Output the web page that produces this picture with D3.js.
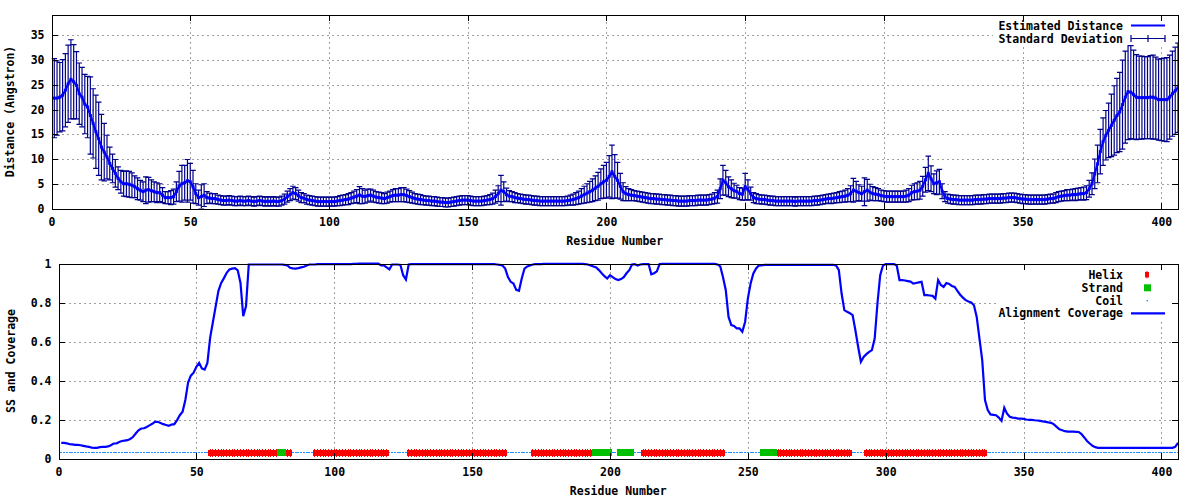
<!DOCTYPE html>
<html><head><meta charset="utf-8">
<script src="https://cdn.jsdelivr.net/npm/d3@7"></script>
<style>
html,body{margin:0;padding:0;background:#fff;}
text{font-family:"DejaVu Sans Mono",monospace;font-weight:bold;font-size:11.5px;fill:#000;}
</style></head><body>
<svg id="c" width="1200" height="500"></svg>
<script>
// ---------------- DATA ----------------
const residues = d3.range(1, 407);
const xTicks = [0, 50, 100, 150, 200, 250, 300, 350, 400];
const distYTicks = [0, 5, 10, 15, 20, 25, 30, 35];
const covYTicks = [0, 0.2, 0.4, 0.6, 0.8, 1];
const covYTickLabels = ["0", "0.2", "0.4", "0.6", "0.8", "1"];

const distance = [
22.3,22.3,22.5,22.9,23.9,25.2,26.1,25.6,24.9,23.2,
22.5,21.1,20.5,18.8,17.2,15.5,14.1,12.4,11.4,10.4,
9.1,8.1,7.1,6.1,5.4,5.0,5.0,4.9,4.7,4.4,
4.0,3.7,3.4,3.7,3.8,3.6,3.4,3.2,3.2,2.7,
2.2,2.2,2.2,2.4,3.4,4.5,5.0,5.2,5.6,5.4,
4.4,3.0,2.2,2.4,2.7,2.2,2.1,2.0,2.0,1.8,
1.7,1.6,1.6,1.7,1.6,1.5,1.5,1.6,1.5,1.5,
1.6,1.5,1.4,1.5,1.6,1.5,1.4,1.5,1.4,1.5,
1.4,1.4,1.6,1.9,2.4,2.8,3.2,3.0,2.6,2.2,
2.1,1.8,1.7,1.6,1.5,1.4,1.4,1.4,1.4,1.4,
1.4,1.4,1.5,1.6,1.7,1.8,1.9,2.1,2.3,2.5,
2.7,2.5,2.4,2.6,2.7,2.5,2.3,2.2,2.1,2.0,
2.2,2.4,2.6,2.7,2.7,2.8,2.8,2.6,2.4,2.2,
2.0,1.9,1.8,1.7,1.6,1.6,1.5,1.5,1.4,1.3,
1.3,1.2,1.2,1.3,1.4,1.5,1.6,1.7,1.7,1.7,
1.6,1.5,1.5,1.5,1.5,1.6,1.7,1.8,2.0,2.4,
3.0,3.7,3.4,2.8,2.5,2.4,2.2,2.1,2.0,1.9,
1.8,1.8,1.7,1.6,1.6,1.5,1.5,1.5,1.5,1.5,
1.5,1.5,1.5,1.5,1.5,1.6,1.7,1.8,2.0,2.2,
2.5,2.8,3.1,3.4,3.7,4.1,4.5,5.0,5.4,5.7,
6.5,7.4,6.5,5.7,4.5,3.4,3.0,2.8,2.7,2.6,
2.5,2.4,2.3,2.2,2.1,2.0,2.0,1.9,1.9,1.8,
1.8,1.7,1.7,1.6,1.6,1.5,1.5,1.5,1.5,1.6,
1.6,1.6,1.7,1.7,1.7,1.7,1.8,1.9,2.1,2.4,
4.0,5.7,5.2,4.4,4.0,3.6,3.4,3.0,2.9,4.4,
3.8,3.0,2.2,2.0,1.9,1.8,1.8,1.7,1.6,1.6,
1.5,1.5,1.5,1.5,1.5,1.5,1.5,1.4,1.5,1.5,
1.5,1.5,1.5,1.5,1.6,1.6,1.7,1.8,1.9,2.0,
2.0,2.1,2.2,2.3,2.4,2.5,2.7,3.0,3.7,3.5,
3.2,3.0,3.4,3.7,3.3,3.0,2.9,2.8,2.6,2.5,
2.4,2.4,2.4,2.4,2.4,2.4,2.4,2.5,2.7,3.2,
3.4,3.5,3.7,4.5,5.8,7.1,6.0,5.0,5.2,5.4,
3.5,2.4,2.0,1.9,1.8,1.8,1.7,1.7,1.7,1.7,
1.7,1.7,1.8,1.8,1.8,1.9,1.9,2.0,2.0,2.0,
2.0,2.0,2.1,2.1,2.2,2.2,2.2,2.1,2.0,1.9,
1.9,1.8,1.8,1.8,1.8,1.8,1.8,1.8,1.9,2.0,
2.0,2.2,2.4,2.5,2.6,2.7,2.7,2.8,2.8,2.9,
3.0,3.0,3.2,4.0,5.0,7.0,9.0,11.5,13.5,14.8,
15.8,16.8,17.8,18.8,19.5,21.0,22.5,23.6,23.5,23.0,
22.5,22.4,22.4,22.4,22.4,22.5,22.5,22.3,22.0,22.0,
22.0,22.0,22.5,23.2,23.8,24.4];

const stdDev = [
8.0,7.5,7.0,7.2,7.4,7.8,8.0,7.5,6.8,6.2,
6.0,6.0,6.2,7.8,7.0,7.4,7.4,6.6,5.8,4.4,
3.3,2.9,2.8,2.3,2.3,2.5,2.6,2.6,2.5,2.2,
2.2,2.0,2.0,2.7,2.5,2.2,2.0,2.0,1.8,1.5,
1.2,1.2,1.4,1.5,2.0,3.0,3.7,3.5,4.3,3.7,
3.3,2.0,1.5,2.4,2.3,1.2,1.0,1.0,1.0,0.9,
0.9,0.9,0.9,0.9,0.9,0.9,0.9,0.9,0.9,0.9,
0.9,0.9,0.9,0.9,0.9,0.9,0.9,0.9,0.9,0.9,
0.9,0.9,0.9,1.0,1.1,1.2,1.3,1.2,1.1,1.0,
0.9,0.9,0.9,0.9,0.9,0.9,0.9,0.9,0.9,0.9,
0.9,0.9,0.9,1.0,1.0,1.0,1.1,1.1,1.2,1.3,
1.7,1.5,1.3,1.3,1.2,1.2,1.1,1.1,1.1,1.0,
1.1,1.1,1.2,1.3,1.3,1.4,1.4,1.3,1.2,1.1,
1.0,1.0,1.0,0.9,0.9,0.9,0.9,0.9,0.9,0.9,
0.9,0.9,0.9,0.9,0.9,0.9,0.9,0.9,0.9,0.9,
0.9,0.9,0.9,0.9,0.9,0.9,0.9,1.0,1.1,1.3,
1.6,3.0,2.0,1.3,1.1,1.0,1.0,0.9,0.9,0.9,
0.9,0.9,0.9,0.9,0.9,0.9,0.9,0.9,0.9,0.9,
0.9,0.9,0.9,0.9,0.9,0.9,1.0,1.1,1.2,1.3,
1.5,1.7,1.9,2.1,2.3,2.5,2.8,3.0,3.3,3.6,
4.2,5.4,4.4,3.6,2.6,1.8,1.4,1.2,1.1,1.0,
1.0,1.0,1.0,1.0,1.0,1.0,1.0,1.0,1.0,1.0,
1.0,1.0,1.0,1.0,1.0,1.0,1.0,1.0,1.0,1.0,
1.0,1.0,1.0,1.0,1.0,1.0,1.0,1.0,1.1,1.3,
2.0,3.0,2.5,2.0,1.8,1.5,1.3,1.2,1.2,2.7,
2.0,1.3,1.0,1.0,0.9,0.9,0.9,0.9,0.9,0.9,
0.9,0.9,0.9,0.9,0.9,0.9,0.9,0.9,0.9,0.9,
0.9,0.9,0.9,0.9,0.9,0.9,0.9,0.9,0.9,0.9,
1.0,1.0,1.0,1.1,1.1,1.2,1.3,1.6,2.4,2.0,
1.6,1.5,2.8,2.2,1.6,1.4,1.3,1.2,1.1,1.1,
1.1,1.1,1.1,1.1,1.1,1.1,1.1,1.2,1.3,1.5,
1.6,1.7,1.8,2.0,2.5,3.5,2.6,2.0,2.4,2.5,
1.5,1.0,0.9,0.9,0.9,0.9,0.9,0.9,0.9,0.9,
0.9,0.9,0.9,0.9,0.9,0.9,0.9,0.9,0.9,0.9,
0.9,0.9,0.9,0.9,0.9,0.9,0.9,0.9,0.9,0.9,
0.9,0.9,0.9,0.9,0.9,0.9,0.9,0.9,0.9,0.9,
0.9,1.0,1.0,1.0,1.0,1.1,1.1,1.1,1.2,1.2,
1.2,1.3,1.4,1.7,2.2,3.0,3.8,4.5,4.8,5.0,
5.5,6.3,7.0,7.5,8.0,9.0,9.3,9.7,9.4,9.0,
8.6,8.4,8.4,8.3,8.3,8.4,8.5,8.3,8.2,8.3,
8.4,8.5,8.5,8.6,8.8,9.0];

const coverage = [
.080,.080,.078,.074,.072,.070,.070,.068,.065,.062,
.060,.056,.055,.055,.058,.060,.060,.062,.068,.077,
.077,.085,.090,.092,.094,.100,.110,.128,.145,.154,
.155,.162,.170,.178,.188,.188,.182,.176,.172,.168,
.174,.176,.197,.222,.240,.300,.390,.425,.440,.470,
.490,.462,.456,.490,.620,.700,.780,.860,.900,.925,
.952,.970,.974,.976,.965,.900,.730,.780,.995,.995,
.995,.995,.995,.995,.995,.995,.995,.995,.995,.995,
.995,.993,.990,.978,.975,.974,.976,.980,.983,.990,
.995,.995,.995,.997,.997,.997,.997,.997,.997,.997,
.997,.997,.997,.997,.997,.997,.998,.998,1,1,
1,1,1,1,1,1,.990,.990,.980,.970,
.995,.995,.995,.993,.940,.918,.995,.997,.997,.997,
.997,.997,.997,.997,.997,.997,.997,.997,.997,.997,
.997,.997,.997,.997,.997,.997,.997,.997,.997,.997,
.997,.997,.997,.997,.997,.997,.997,.997,.995,.993,
.990,.974,.930,.906,.897,.865,.860,.923,.974,.985,
.990,.995,.997,.997,.997,.998,.998,.998,.998,.998,
.998,.998,.998,.998,.998,.998,.998,.998,.998,.998,
.997,.995,.990,.985,.980,.966,.950,.935,.923,.940,
.930,.920,.915,.920,.930,.950,.966,.995,.997,.990,
.995,.997,.997,.997,.945,.950,.960,.997,.998,.998,
.998,.998,.998,.998,.998,.998,.998,.998,.998,.998,
.998,.998,.998,.998,.998,.998,.998,.998,.995,.985,
.930,.863,.726,.684,.680,.667,.667,.650,.700,.820,
.897,.949,.975,.990,.990,.993,.993,.993,.993,.993,
.993,.993,.993,.993,.993,.993,.993,.993,.993,.993,
.993,.993,.993,.993,.993,.993,.993,.993,.993,.993,
.993,.990,.966,.846,.761,.752,.745,.735,.658,.573,
.496,.521,.535,.547,.556,.615,.795,.940,.990,.997,
.997,.997,.997,.990,.915,.915,.913,.910,.907,.897,
.900,.903,.906,.838,.838,.836,.834,.820,.915,.890,
.880,.900,.895,.885,.880,.860,.840,.825,.812,.805,
.800,.786,.726,.615,.504,.300,.248,.226,.224,.222,
.210,.193,.260,.230,.214,.210,.208,.205,.205,.203,
.200,.198,.198,.196,.195,.193,.190,.188,.185,.183,
.175,.162,.150,.145,.140,.138,.138,.138,.137,.136,
.125,.108,.090,.077,.065,.058,.055,.055,.055,.055,
.055,.055,.055,.055,.055,.055,.055,.055,.055,.055,
.055,.055,.055,.055,.055,.055,.055,.055,.055,.055,
.055,.055,.055,.055,.060,.080];

// secondary structure segments [first residue, last residue]
const helixSegments = [[55,79],[83,84],[93,119],[127,162],[172,193],[212,241],[261,287],[293,336]];
const strandSegments = [[80,82],[194,200],[203,208],[255,260]];
const ssLevel = 0.03;

// ---------------- DRAWING ----------------
const svg = d3.select("#c");
svg.append("rect").attr("width",1200).attr("height",500).attr("fill","#fff");

const GRID = "#a0a0a0";
function panel(x, y, ticksY, tickLabY, xlabel, ylabel, ylabCx) {
  const g = svg.append("g");
  const [x0, x1] = x.range(), [y0, y1] = y.range();
  const grid = g.append("g");
  xTicks.forEach(t => grid.append("line").attr("x1",Math.round(x(t))+0.5).attr("x2",Math.round(x(t))+0.5).attr("y1",y0).attr("y2",y1)
      .attr("stroke",GRID).attr("stroke-width",1).attr("stroke-dasharray","2,3").attr("shape-rendering","crispEdges"));
  ticksY.forEach(t => grid.append("line").attr("x1",x0).attr("x2",x1).attr("y1",Math.round(y(t))+0.5).attr("y2",Math.round(y(t))+0.5)
      .attr("stroke",GRID).attr("stroke-width",1).attr("stroke-dasharray","2,3").attr("shape-rendering","crispEdges"));
  const bx = d3.axisBottom(x).tickValues(xTicks).tickSize(0).tickPadding(8).tickFormat(d3.format("d"));
  const ly = d3.axisLeft(y).tickValues(ticksY).tickSize(0).tickPadding(8).tickFormat((d,i)=>tickLabY[i]);
  const gx = g.append("g").attr("transform",`translate(0,${y0})`).call(bx);
  const gy = g.append("g").attr("transform",`translate(${x0},0)`).call(ly);
  [gx,gy].forEach(a => { a.select(".domain").remove(); a.selectAll("text").attr("font-family",null).attr("font-size",null).attr("fill","#000"); });
  gy.selectAll("text").attr("x",-7);
  gx.selectAll("text").attr("y",9);
  g.append("text").attr("x",(x0+x1)/2).attr("y",y0+36).attr("text-anchor","middle").text(xlabel);
  g.append("text").attr("transform",`translate(${ylabCx},${(y0+y1)/2}) rotate(-90)`).attr("text-anchor","middle")
    .attr("dy","0.35em").text(ylabel);
  return g;
}
function frame(x, y, ticksY) {
  const g = svg.append("g").attr("shape-rendering","crispEdges");
  const [x0, x1] = x.range(), [y0, y1] = y.range();
  const tl = 6;
  xTicks.forEach(t => {
    const xx = Math.round(x(t)) + 0.5;
    g.append("line").attr("x1",xx).attr("x2",xx).attr("y1",y0).attr("y2",y0-tl).attr("stroke","#000");
    g.append("line").attr("x1",xx).attr("x2",xx).attr("y1",y1).attr("y2",y1+tl).attr("stroke","#000");
  });
  ticksY.forEach(t => {
    const yy = Math.round(y(t)) + 0.5;
    g.append("line").attr("x1",x0).attr("x2",x0+tl).attr("y1",yy).attr("y2",yy).attr("stroke","#000");
    g.append("line").attr("x1",x1).attr("x2",x1-tl).attr("y1",yy).attr("y2",yy).attr("stroke","#000");
  });
  g.append("rect").attr("x",Math.round(x0)+0.5).attr("y",Math.round(y1)+0.5)
    .attr("width",Math.round(x1)-Math.round(x0)).attr("height",Math.round(y0)-Math.round(y1))
    .attr("fill","none").attr("stroke","#000").attr("stroke-width",1);
}

// ---- top panel ----
const xT = d3.scaleLinear().domain([0,406]).range([51.5,1178]);
const yT = d3.scaleLinear().domain([0,39.2]).range([208.5,14.5]);
panel(xT, yT, distYTicks, distYTicks.map(String), "Residue Number", "Distance (Angstron)", 10);

svg.append("clipPath").attr("id","clipT").append("rect")
  .attr("x",51.5).attr("y",14.5).attr("width",1178-51.5).attr("height",208.5-14.5);
const dataT = svg.append("g").attr("clip-path","url(#clipT)");
const EB = "#00008b";
const eb = dataT.append("g").attr("stroke",EB).attr("stroke-width",1.2);
residues.forEach((r,i) => {
  const xx = xT(r), lo = yT(Math.max(0,distance[i]-stdDev[i])), hi = yT(distance[i]+stdDev[i]);
  eb.append("line").attr("x1",xx).attr("x2",xx).attr("y1",lo).attr("y2",hi);
  eb.append("line").attr("x1",xx-2.8).attr("x2",xx+2.8).attr("y1",lo).attr("y2",lo);
  eb.append("line").attr("x1",xx-2.8).attr("x2",xx+2.8).attr("y1",hi).attr("y2",hi);
});
const lineT = d3.line().x(r=>xT(r)).y((r,i)=>yT(distance[i]));
dataT.append("path").datum(residues).attr("d",lineT).attr("fill","none").attr("stroke","#0000ff").attr("stroke-width",2.2);
dataT.append("g").selectAll("rect").data(residues).join("rect")
  .attr("x",r=>xT(r)-1.5).attr("y",(r,i)=>yT(distance[i])-1.5).attr("width",3).attr("height",3).attr("fill","#0000ff");

// legend top (opaque box)
svg.append("rect").attr("x",993).attr("y",17).attr("width",179).attr("height",28).attr("fill","#fff");
svg.append("text").attr("x",1123).attr("y",29.8).attr("text-anchor","end").text("Estimated Distance");
svg.append("line").attr("x1",1131).attr("x2",1165).attr("y1",25.5).attr("y2",25.5).attr("stroke","#0000ff").attr("stroke-width",2.2);
svg.append("text").attr("x",1123).attr("y",43).attr("text-anchor","end").text("Standard Deviation");
const lg = svg.append("g").attr("stroke",EB).attr("stroke-width",1.2);
lg.append("line").attr("x1",1131).attr("x2",1165).attr("y1",38.5).attr("y2",38.5);
[1131,1148,1165].forEach(xx => lg.append("line").attr("x1",xx).attr("x2",xx).attr("y1",35).attr("y2",42));
frame(xT, yT, distYTicks);

// ---- bottom panel ----
const xB = d3.scaleLinear().domain([0,406]).range([58.5,1178]);
const yB = d3.scaleLinear().domain([0,1]).range([458.5,263.5]);
panel(xB, yB, covYTicks, covYTickLabels, "Residue Number", "SS and Coverage", 11);

const ssType = residues.map(r => {
  if (helixSegments.some(s => r>=s[0] && r<=s[1])) return "H";
  if (strandSegments.some(s => r>=s[0] && r<=s[1])) return "E";
  return "C";
});
const dataB = svg.append("g");
const ssY = yB(ssLevel);
// coil dots
dataB.append("g").attr("shape-rendering","crispEdges").selectAll("rect").data(residues.filter((r,i)=>ssType[i]==="C")).join("rect")
  .attr("x",r=>Math.round(xB(r))-1).attr("y",Math.round(ssY)-1).attr("width",2).attr("height",1).attr("fill","#1e90ff");
// helix points
const hg = dataB.append("g").attr("fill","#ff0000").attr("shape-rendering","crispEdges");
residues.filter((r,i)=>ssType[i]==="H").forEach(r => {
  hg.append("rect").attr("x",xB(r)-2).attr("y",ssY-3).attr("width",4).attr("height",6);
  hg.append("rect").attr("x",xB(r)-0.5).attr("y",ssY-4).attr("width",1).attr("height",8);
});
// strand squares
dataB.append("g").attr("shape-rendering","crispEdges").selectAll("rect").data(residues.filter((r,i)=>ssType[i]==="E")).join("rect")
  .attr("x",r=>xB(r)-1.6).attr("y",ssY-3.3).attr("width",3.2).attr("height",6.6).attr("fill","#00c000");
// coverage line
const lineB = d3.line().x(r=>xB(r)).y((r,i)=>yB(coverage[i]));
dataB.append("path").datum(residues).attr("d",lineB).attr("fill","none").attr("stroke","#0000ff").attr("stroke-width",2.2);

// legend bottom
svg.append("rect").attr("x",999).attr("y",266).attr("width",173).attr("height",54).attr("fill","#fff");
const legB = [["Helix",275],["Strand",287.8],["Coil",300.6],["Alignment Coverage",313.4]];
legB.forEach(([t,yy]) => svg.append("text").attr("x",1123).attr("y",yy+4).attr("text-anchor","end").text(t));
svg.append("rect").attr("x",1145).attr("y",272).attr("width",4).attr("height",5.4).attr("fill","#ff0000");
svg.append("rect").attr("x",1146.5).attr("y",271).attr("width",1).attr("height",7.4).attr("fill","#ff0000");
svg.append("rect").attr("x",1144).attr("y",284.3).attr("width",7).attr("height",7).attr("fill","#00c000");
svg.append("rect").attr("x",1146.5).attr("y",300).attr("width",1.4).attr("height",1.4).attr("fill","#1e90ff");
svg.append("line").attr("x1",1131).attr("x2",1165).attr("y1",313.4).attr("y2",313.4).attr("stroke","#0000ff").attr("stroke-width",2.2);
frame(xB, yB, covYTicks);
</script></body></html>
